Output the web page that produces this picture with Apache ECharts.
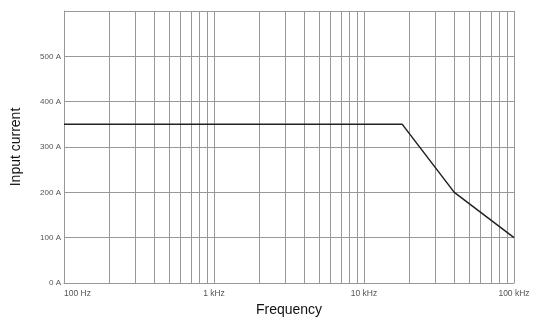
<!DOCTYPE html>
<html>
<head>
<meta charset="utf-8">
<script src="https://cdn.jsdelivr.net/npm/echarts@6/dist/echarts.min.js"></script>
<style>
  html, body { margin: 0; padding: 0; background: #fff; }
  #chart { width: 535px; height: 320px; }
</style>
</head>
<body>
<div id="chart"></div>
<script>
// input current limit vs frequency
const freqHz = [100, 18000, 40000, 100000];
const currentA = [350, 350, 200, 100];

const xMajor = [100, 1000, 10000, 100000];
const xMajorLabels = ['100 Hz', '1 kHz', '10 kHz', '100 kHz'];
const xMinorSteps = [2, 3, 4, 5, 6, 7, 8, 9];
const yTicks = [0, 100, 200, 300, 400, 500, 600];

const gridCol = '#999';
const minorLines = [];
xMajor.slice(0, 3).forEach(d => {
  xMinorSteps.forEach(m => minorLines.push({ xAxis: d * m }));
});

const chart = echarts.init(document.getElementById('chart'));
chart.setOption({
  animation: false,
  grid: { left: 64, right: 21, top: 11, bottom: 37, outerBoundsMode: 'none', containLabel: false },
  xAxis: {
    type: 'log',
    logBase: 10,
    min: 100,
    max: 100000,
    name: 'Frequency',
    nameLocation: 'middle',
    nameGap: 18,
    nameTextStyle: { fontFamily: 'Liberation Sans', fontSize: 14, color: '#111' },
    axisLine: { lineStyle: { color: gridCol, width: 1 } },
    axisTick: { show: false },
    axisLabel: {
      fontFamily: 'Liberation Sans', fontSize: 8.5, color: '#555', margin: 6,
      alignMinLabel: 'left',
      formatter: v => {
        const i = xMajor.findIndex(x => Math.abs(x - v) / x < 1e-6);
        return i >= 0 ? xMajorLabels[i] : '';
      }
    },
    splitLine: { show: true, lineStyle: { color: gridCol, width: 1 } }
  },
  yAxis: {
    type: 'value',
    min: 0,
    max: 600,
    interval: 100,
    name: 'Input current',
    nameLocation: 'middle',
    nameGap: 41,
    nameTextStyle: { fontFamily: 'Liberation Sans', fontSize: 14, color: '#111' },
    axisLine: { show: true, lineStyle: { color: gridCol, width: 1 } },
    axisTick: { show: false },
    axisLabel: {
      fontFamily: 'Liberation Sans', fontSize: 8, color: '#555', margin: 3,
      formatter: v => (v === yTicks[yTicks.length - 1] ? '' : v + ' A')
    },
    splitLine: { show: true, lineStyle: { color: gridCol, width: 1 } }
  },
  series: [{
    type: 'line',
    data: freqHz.map((f, i) => [f, currentA[i]]),
    showSymbol: false,
    lineStyle: { color: '#222', width: 1.5 },
    z: 5,
    markLine: {
      silent: true,
      symbol: 'none',
      label: { show: false },
      lineStyle: { color: gridCol, width: 1, type: 'solid' },
      data: minorLines,
      z: 1
    }
  }]
});
</script>
</body>
</html>
